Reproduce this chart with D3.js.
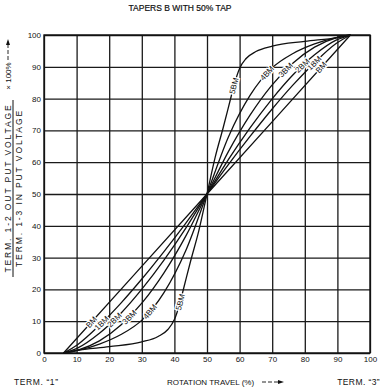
<!DOCTYPE html>
<html>
<head>
<meta charset="utf-8">
<script src="https://cdn.jsdelivr.net/npm/d3@7/dist/d3.min.js"></script>
<style>
  body { margin: 0; background: #fff; }
  text { font-family: "Liberation Sans", Arial, sans-serif; fill: #111; }
</style>
</head>
<body>
<svg id="chart" width="387" height="392"></svg>
<script>
// Tick labels
var xTicks = [0, 10, 20, 30, 40, 50, 60, 70, 80, 90, 100];
var yTicks = [0, 10, 20, 30, 40, 50, 60, 70, 80, 90, 100];

// Taper names
var tapers = ["BM", "1BM", "2BM", "3BM", "4BM", "5BM"];

// Curves: [rotation %, output %]
var bm = [[6, 0], [50, 50], [94, 100]];
var bm1 = [[6, 0], [10.4, 2.7], [17, 8.7], [23.6, 15.7], [30.2, 23.5], [36.8, 31.9], [43.4, 40.7], [50, 50],
           [56.6, 59.3], [63.2, 68.1], [69.8, 76.5], [76.4, 84.3], [83, 91.3], [89.6, 97.3], [94, 100]];
var bm2 = [[6, 0], [10.4, 1.6], [17, 6.2], [23.6, 12.5], [30.2, 20.3], [36.8, 29.2], [43.4, 39.1], [50, 50],
           [56.6, 60.9], [63.2, 70.8], [69.8, 79.7], [76.4, 87.5], [83, 93.8], [89.6, 98.4], [94, 100]];
var bm3 = [[6, 0], [10.4, 0.9], [17, 3.8], [23.6, 8.8], [30.2, 15.9], [36.8, 25.2], [43.4, 36.6], [50, 50],
           [56.6, 63.4], [63.2, 74.8], [69.8, 84.1], [76.4, 91.2], [83, 96.2], [89.6, 99.1], [94, 100]];
var bm4 = [[6, 0], [10.4, 0.8], [17, 2.8], [23.6, 5.8], [30.2, 10.5], [36.8, 19], [43.4, 32], [50, 50],
           [56.6, 68], [63.2, 81], [69.8, 89.5], [76.4, 94.2], [83, 97.2], [89.6, 99.2], [94, 100]];
var bm5 = [[6, 0], [10, 0.8], [20, 2], [30, 3.5], [35, 5.2], [38, 7.4], [40, 10.5], [41.5, 15], [43, 21], [45, 29],
           [47.5, 38.5], [50, 50], [52.5, 61.5], [55, 71], [57, 79], [58.5, 85], [60, 89.5], [62, 92.6],
           [65, 94.8], [70, 96.5], [80, 98], [90, 99.2], [94, 100]];
var curves = [bm, bm1, bm2, bm3, bm4, bm5];

// where the names sit on each curve (output % level), lower and upper half
var labelLow = [9.7, 9.4, 10.4, 11.3, 13, 16];
var labelHigh = [89.8, 91.2, 90.4, 89, 88, 84];

var svg = d3.select("#chart");
var plotL = 44, plotR = 370, plotT = 35, plotB = 353;

var x = d3.scaleLinear().domain([0, 100]).range([plotL, plotR]);
var y = d3.scaleLinear().domain([0, 100]).range([plotB, plotT]);

// title
svg.append("text")
    .attr("x", 180).attr("y", 11)
    .attr("text-anchor", "middle")
    .style("font-size", "8.5px")
    .attr("stroke", "#111").attr("stroke-width", 0.2)
    .text("TAPERS B WITH 50% TAP");

// grid + tick labels
var gx = svg.append("g")
    .attr("transform", "translate(0," + plotB + ")")
    .call(d3.axisBottom(x).tickValues(xTicks).tickSize(-(plotB - plotT)).tickPadding(3));
var gy = svg.append("g")
    .attr("transform", "translate(" + plotL + ",0)")
    .call(d3.axisLeft(y).tickValues(yTicks).tickSize(-(plotR - plotL)).tickPadding(3));

[gx, gy].forEach(function(g) {
    g.select(".domain").remove();
    g.selectAll(".tick line").attr("stroke", "#1a1a1a").attr("stroke-width", 1.3);
    g.selectAll(".tick text")
        .style("font-family", "'Liberation Sans', Arial, sans-serif")
        .style("font-size", "8px")
        .attr("fill", "#111");
});

svg.append("rect")
    .attr("x", plotL).attr("y", plotT)
    .attr("width", plotR - plotL).attr("height", plotB - plotT)
    .attr("fill", "none").attr("stroke", "#111").attr("stroke-width", 1.4);

// curves
var line = d3.line()
    .x(function(d) { return x(d[0]); })
    .y(function(d) { return y(d[1]); })
    .curve(d3.curveMonotoneX);

var paths = svg.append("g").selectAll("path")
    .data(curves)
    .enter()
    .append("path")
    .attr("d", line)
    .attr("fill", "none")
    .attr("stroke", "#111")
    .attr("stroke-width", 1.3);

// find the point on a path at a given pixel height, with its slope
function pointAtY(node, py) {
    var len = node.getTotalLength();
    var lo = 0, hi = len;
    for (var i = 0; i < 40; i++) {
        var mid = (lo + hi) / 2;
        if (node.getPointAtLength(mid).y > py) lo = mid; else hi = mid;
    }
    var p = node.getPointAtLength(lo);
    var a = node.getPointAtLength(Math.max(0, lo - 5));
    var b = node.getPointAtLength(Math.min(len, lo + 5));
    return {x: p.x, y: p.y, angle: Math.atan2(b.y - a.y, b.x - a.x) * 180 / Math.PI};
}

var labels = svg.append("g");
paths.each(function(d, i) {
    var node = this;
    [labelLow[i], labelHigh[i]].forEach(function(v) {
        var p = pointAtY(node, y(v));
        labels.append("text")
            .attr("transform", "translate(" + p.x + "," + p.y + ") rotate(" + p.angle + ")")
            .attr("text-anchor", "middle")
            .attr("dy", "0.35em")
            .style("font-size", "8px")
            .attr("stroke", "#fff")
            .attr("stroke-width", 2.6)
            .attr("paint-order", "stroke")
            .text(tapers[i]);
    });
});

// y axis title (fraction)
var yt = svg.append("g");
yt.append("text")
    .attr("transform", "translate(11,188) rotate(-90)")
    .attr("text-anchor", "middle")
    .style("font-size", "8.5px")
    .style("letter-spacing", "1.9px")
    .text("TERM. 1-2 OUT PUT VOLTAGE");
yt.append("line")
    .attr("x1", 13).attr("x2", 13)
    .attr("y1", 100).attr("y2", 277)
    .attr("stroke", "#111").attr("stroke-width", 1);
yt.append("text")
    .attr("transform", "translate(21.5,188) rotate(-90)")
    .attr("text-anchor", "middle")
    .style("font-size", "8.5px")
    .style("letter-spacing", "1.9px")
    .text("TERM. 1-3 IN PUT VOLTAGE");
yt.append("text")
    .attr("transform", "translate(11,76) rotate(-90)")
    .attr("text-anchor", "middle")
    .style("font-size", "8px")
    .text("\u00d7 100%");
yt.append("line")
    .attr("x1", 8).attr("x2", 8)
    .attr("y1", 60).attr("y2", 44)
    .attr("stroke", "#111").attr("stroke-width", 0.9)
    .attr("stroke-dasharray", "4,2");
yt.append("path")
    .attr("d", "M8,39 L6,45 L10,45 Z")
    .attr("fill", "#111");

// bottom texts
svg.append("text")
    .attr("x", 14).attr("y", 385)
    .style("font-size", "8.5px")
    .style("letter-spacing", "0.6px")
    .text("TERM. \u201c1\u201d");
svg.append("text")
    .attr("x", 167).attr("y", 385)
    .style("font-size", "8px")
    .text("ROTATION TRAVEL (%)");
svg.append("line")
    .attr("x1", 262).attr("x2", 278)
    .attr("y1", 382).attr("y2", 382)
    .attr("stroke", "#111").attr("stroke-width", 0.9)
    .attr("stroke-dasharray", "4,2");
svg.append("path")
    .attr("d", "M284,382 L278,380 L278,384 Z")
    .attr("fill", "#111");
svg.append("text")
    .attr("x", 380).attr("y", 385)
    .attr("text-anchor", "end")
    .style("font-size", "8.5px")
    .style("letter-spacing", "0.4px")
    .text("TERM. \u201c3\u201d");
</script>
</body>
</html>
